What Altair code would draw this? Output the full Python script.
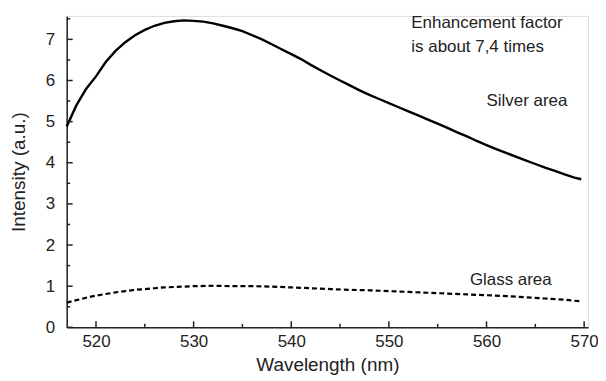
import altair as alt
import pandas as pd

silver_wl = [517, 518, 519, 520, 521, 522, 523, 524, 525, 526, 527, 528, 529, 530,
             531, 532, 533, 534, 535, 536, 537, 538, 539, 540, 541, 542, 543, 544,
             545, 546, 547, 548, 549, 550, 551, 552, 553, 554, 555, 556, 557, 558,
             559, 560, 561, 562, 563, 564, 565, 566, 567, 568, 569, 569.7]
silver_int = [4.88, 5.4, 5.8, 6.1, 6.45, 6.72, 6.93, 7.1, 7.23, 7.33, 7.4, 7.44, 7.46, 7.45,
              7.43, 7.39, 7.33, 7.27, 7.2, 7.1, 7.0, 6.88, 6.76, 6.64, 6.52, 6.38, 6.25, 6.12,
              6.0, 5.88, 5.76, 5.65, 5.55, 5.45, 5.35, 5.25, 5.15, 5.05, 4.95, 4.85, 4.74, 4.64,
              4.53, 4.43, 4.33, 4.24, 4.15, 4.06, 3.97, 3.88, 3.8, 3.72, 3.64, 3.6]

glass_wl = [517, 518, 519, 520, 521, 522, 523, 524, 525, 526, 527, 528, 530, 532, 534,
            536, 538, 540, 542, 544, 546, 548, 550, 552, 554, 556, 558, 560, 562, 564,
            566, 568, 569.7]
glass_int = [0.6, 0.66, 0.72, 0.77, 0.81, 0.85, 0.88, 0.91, 0.93, 0.95, 0.97, 0.98, 1.0, 1.01, 1.0,
             1.0, 0.99, 0.97, 0.95, 0.93, 0.91, 0.9, 0.88, 0.86, 0.84, 0.82, 0.8, 0.78, 0.76, 0.73,
             0.7, 0.67, 0.63]

x_major = [520, 530, 540, 550, 560, 570]
x_minor = [525, 535, 545, 555, 565]
y_major = [0, 1, 2, 3, 4, 5, 6, 7]
y_minor = [0.5, 1.5, 2.5, 3.5, 4.5, 5.5, 6.5, 7.5]

notes = ["Enhancement factor", "is about 7,4 times", "Silver area", "Glass area"]
notes_wl = [552.3, 552.3, 560.0, 558.3]
notes_int = [7.4, 6.82, 5.5, 1.16]

FONT = "Liberation Sans"
XDOM = [517, 570.4]
YDOM = [0, 7.57]

xs = alt.Scale(domain=XDOM, nice=False, zero=False)
ys = alt.Scale(domain=YDOM, nice=False, zero=False)

silver = pd.DataFrame({"wl": silver_wl, "v": silver_int})
glass = pd.DataFrame({"wl": glass_wl, "v": glass_int})

base_axis_x = alt.Axis(values=x_major, ticks=False, grid=False, labelFont=FONT,
                       labelFontSize=17, labelColor="#222", labelPadding=6,
                       domainColor="#222", domainWidth=1.5, title="Wavelength (nm)",
                       titleFont=FONT, titleFontSize=19, titleFontWeight="normal",
                       titleColor="#222", titlePadding=6)
base_axis_y = alt.Axis(values=y_major, ticks=False, grid=False, labelFont=FONT,
                       labelFontSize=17, labelColor="#222", labelPadding=12,
                       domainColor="#222", domainWidth=1.5, title="Intensity (a.u.)",
                       titleFont=FONT, titleFontSize=19, titleFontWeight="normal",
                       titleColor="#222", titlePadding=17)

silver_line = alt.Chart(silver).mark_line(color="black", strokeWidth=2.4).encode(
    x=alt.X("wl:Q", scale=xs, axis=base_axis_x),
    y=alt.Y("v:Q", scale=ys, axis=base_axis_y),
)
glass_line = alt.Chart(glass).mark_line(color="black", strokeWidth=2.2,
                                        strokeDash=[5, 3]).encode(
    x=alt.X("wl:Q", scale=xs),
    y=alt.Y("v:Q", scale=ys),
)

H = 313
xmaj = alt.Chart(pd.DataFrame({"t": x_major})).mark_rule(color="#222", strokeWidth=1.5).encode(
    x=alt.X("t:Q", scale=xs), y=alt.value(H), y2=alt.value(H - 6))
xmin = alt.Chart(pd.DataFrame({"t": x_minor})).mark_rule(color="#222", strokeWidth=1.5).encode(
    x=alt.X("t:Q", scale=xs), y=alt.value(H), y2=alt.value(H - 3.5))
ymaj = alt.Chart(pd.DataFrame({"t": y_major})).mark_rule(color="#222", strokeWidth=1.5).encode(
    y=alt.Y("t:Q", scale=ys), x=alt.value(0), x2=alt.value(6))
ymin = alt.Chart(pd.DataFrame({"t": y_minor})).mark_rule(color="#222", strokeWidth=1.5).encode(
    y=alt.Y("t:Q", scale=ys), x=alt.value(0), x2=alt.value(3.5))

text = alt.Chart(pd.DataFrame({"t": notes, "wl": notes_wl, "v": notes_int})).mark_text(
    font=FONT, fontSize=17, align="left", baseline="middle", color="#222").encode(
    x=alt.X("wl:Q", scale=xs), y=alt.Y("v:Q", scale=ys), text="t:N")

chart = alt.layer(silver_line, glass_line, xmaj, xmin, ymaj, ymin, text).properties(
    width=524, height=H,
    autosize=alt.AutoSizeParams(type="none"),
    padding={"left": 59, "top": 7, "right": 10, "bottom": 50},
).configure_view(stroke=None).configure(background="white")

chart.save("out.html", embed_options={"renderer": "svg", "actions": False})
